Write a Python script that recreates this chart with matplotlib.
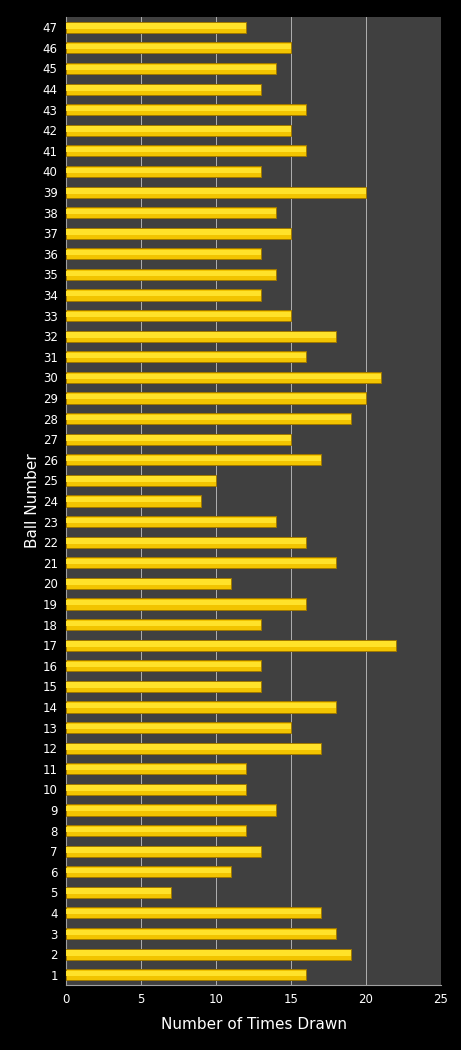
import matplotlib.pyplot as plt

balls = list(range(1, 48))
times_drawn = [16, 19, 18, 17, 7, 11, 13, 12, 14, 12,
               12, 17, 15, 18, 13, 13, 22, 13, 16, 11,
               18, 16, 14, 9, 10, 17, 15, 19, 20, 21,
               16, 18, 15, 13, 14, 13, 15, 14, 20, 13,
               16, 15, 16, 13, 14, 15, 12]
x_ticks = [0, 5, 10, 15, 20, 25]

fig = plt.figure(figsize=(4.61, 10.5), dpi=100, facecolor='black')
ax = fig.add_axes([0.1432, 0.0619, 0.8134, 0.9219])
ax.set_facecolor('#404040')

# gold bars, lighter band near the top for the bevelled look
ax.barh(balls, times_drawn, height=0.54, color='#F2C400', edgecolor='#A07800', linewidth=0.7, zorder=3)
hl_pos = [b + 0.06 for b in balls]
ax.barh(hl_pos, times_drawn, height=0.26, color='#FFE22A', linewidth=0, zorder=4)

ax.set_xlim(0, 25)
ax.set_ylim(0.5, 47.5)
ax.set_xticks(x_ticks)
ax.set_yticks(balls)
ax.xaxis.grid(True, color='#B0B0B0', linewidth=0.7, zorder=1)
ax.set_axisbelow(True)

for s in ['top', 'right']:
    ax.spines[s].set_visible(False)
ax.spines['left'].set_color('#A0A0A0')
ax.spines['bottom'].set_color('#A0A0A0')
ax.tick_params(colors='white', labelsize=8.5, length=0, pad=6)

ax.set_xlabel('Number of Times Drawn', color='white', fontsize=11, labelpad=8)
ax.set_ylabel('Ball Number', color='white', fontsize=11, labelpad=2)

fig.savefig('out.png', dpi=100, facecolor='black')
